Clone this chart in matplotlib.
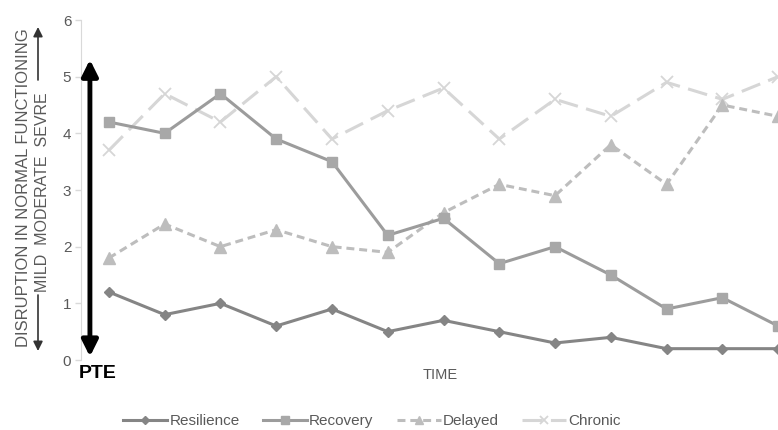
import matplotlib
matplotlib.use("Agg")
import matplotlib.pyplot as plt
import numpy as np

# values
time_points = np.arange(13)
resilience = [1.2, 0.8, 1.0, 0.6, 0.9, 0.5, 0.7, 0.5, 0.3, 0.4, 0.2, 0.2, 0.2]
recovery = [4.2, 4.0, 4.7, 3.9, 3.5, 2.2, 2.5, 1.7, 2.0, 1.5, 0.9, 1.1, 0.6]
delayed = [1.8, 2.4, 2.0, 2.3, 2.0, 1.9, 2.6, 3.1, 2.9, 3.8, 3.1, 4.5, 4.3]
chronic = [3.7, 4.7, 4.2, 5.0, 3.9, 4.4, 4.8, 3.9, 4.6, 4.3, 4.9, 4.6, 5.0]
y_ticks = [0, 1, 2, 3, 4, 5, 6]

plt.rcParams['font.family'] = ['Liberation Sans', 'DejaVu Sans']
txt_grey = '#595959'

W, H = 778, 430
fig = plt.figure(figsize=(W / 100, H / 100), dpi=100)
# plot area runs past the right edge, as in the cropped original
ax = fig.add_axes([81 / W, 1 - 360 / H, 725 / W, 340 / H])

lw = 2.2
ax.plot(time_points, resilience, color='#858585', lw=lw, marker='D', ms=5,
        label='Resilience', zorder=5)
ax.plot(time_points, recovery, color='#9c9c9c', lw=lw, marker='s', ms=7.5,
        mfc='#a8a8a8', mec='#a8a8a8', label='Recovery', zorder=4)
ax.plot(time_points, delayed, color='#bdbdbd', lw=lw, marker='^', ms=8,
        dashes=(2.6, 1.6), label='Delayed', zorder=3)
ax.plot(time_points, chronic, color='#d6d6d6', lw=lw, marker='x', ms=8, mew=1.3,
        dashes=(6.5, 2.8), label='Chronic', zorder=2)

ax.set_xlim(-0.5, 12.5)
ax.set_ylim(0, 6)
ax.set_yticks(y_ticks)
ax.set_xticks([])
for s in ['top', 'right', 'bottom']:
    ax.spines[s].set_visible(False)
ax.spines['left'].set_color('#d9d9d9')
ax.tick_params(axis='y', colors='#d9d9d9', length=4, width=1, labelcolor=txt_grey,
               labelsize=11, pad=3)

# big black double arrow from the PTE point
ax.annotate('', xy=(-0.34, 5.3), xytext=(-0.34, 0.06),
            arrowprops=dict(arrowstyle='<|-|>', color='black', lw=3.5,
                            mutation_scale=24, shrinkA=0, shrinkB=0),
            annotation_clip=False)

fig.text(98 / W, 1 - 373 / H, 'PTE', ha='center', va='center', fontsize=14,
         fontweight='bold', color='black')
fig.text(440 / W, 1 - 375 / H, 'TIME', ha='center', va='center', fontsize=10.5,
         color=txt_grey)

# two-line y label with thin arrows
fig.text(24 / W, 1 - 188 / H, 'DISRUPTION IN NORMAL FUNCTIONING', rotation=90,
         ha='center', va='center', fontsize=12, color=txt_grey)
fig.text(43 / W, 1 - 192 / H, 'MILD  MODERATE  SEVRE', rotation=90,
         ha='center', va='center', fontsize=11.5, color=txt_grey)
arrow_kw = dict(arrowstyle='-|>', color='#333333', lw=1.2, mutation_scale=14,
                shrinkA=0, shrinkB=0)
ax.annotate('', xy=(38 / W, 1 - 27 / H), xytext=(38 / W, 1 - 80 / H),
            xycoords='figure fraction', textcoords='figure fraction',
            arrowprops=arrow_kw, annotation_clip=False)
ax.annotate('', xy=(38 / W, 1 - 351 / H), xytext=(38 / W, 1 - 295 / H),
            xycoords='figure fraction', textcoords='figure fraction',
            arrowprops=arrow_kw, annotation_clip=False)

leg = fig.legend(loc='center', bbox_to_anchor=(372 / W, 1 - 421 / H), ncol=4,
                 frameon=False, fontsize=11, handlelength=2.9, handletextpad=0.15,
                 columnspacing=1.5, markerscale=0.8)
for t in leg.get_texts():
    t.set_color(txt_grey)

fig.savefig('out.png', dpi=100)
